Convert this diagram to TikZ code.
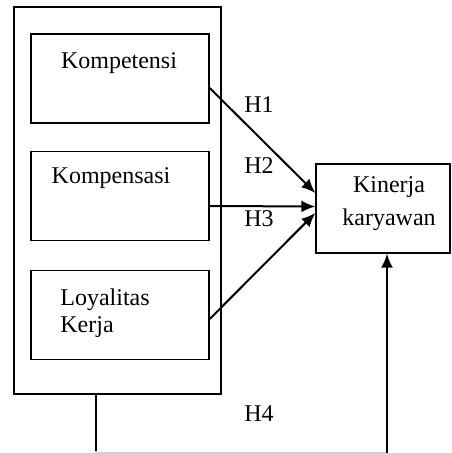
\documentclass[tikz,border=0pt]{standalone}
\usepackage{fontspec}
\setmainfont{Liberation Serif}
\usetikzlibrary{arrows.meta}
\begin{document}
\begin{tikzpicture}[x=0.5pt,y=-0.5pt,
    box/.style={draw, line width=0.7pt, minimum width=89pt, minimum height=44.5pt, inner sep=0pt},
    txt/.style={font=\fontsize{12}{13.5}\selectfont, inner sep=0pt},
    arr/.style={-{Latex[length=7pt,width=6pt]}, line width=1pt}]
  \useasboundingbox (0,0) rectangle (451,453);
  % variabel bebas
  \node[draw, line width=0.7pt, minimum width=103.5pt, minimum height=193.5pt] (grp) at (117.5,200.5) {};
  \node[box] (komp) at (120,78.5) {};
  \node[box] (kmps) at (120,196) {};
  \node[box] (loya) at (120,315) {};
  \node[txt, anchor=base] (kompT) at (119,69) {Kompetensi};
  \node[txt, anchor=base] (kmpsT) at (111,184) {Kompensasi};
  \node[txt, anchor=base west, align=left] (loyaT) at (60,332) {Loyalitas\\Kerja};
  % variabel terikat
  \node[box, minimum width=67pt] (kin) at (383,208.5) {};
  \node[txt, anchor=base, align=center, font=\fontsize{12}{16.5}\selectfont] (kinT) at (389,226) {Kinerja\\karyawan};
  % hipotesis
  \draw[arr] ([yshift=-4.75pt]komp.east) -- ([yshift=7.75pt]kin.west);
  \draw[arr] ([yshift=-5pt]kmps.east) -- ([yshift=1pt]kin.west);
  \draw[arr] ([yshift=-2pt]loya.east) -- ([yshift=-2.25pt]kin.west);
  \coordinate (h4a) at (96,453);
  \coordinate (h4b) at (387,453);
  \draw[line width=1pt, gray!40] (grp.south -| h4a) -- (h4a) -- (h4b);
  \draw[line width=1pt] (grp.south -| h4a) -- ([yshift=1pt]h4a);
  \draw[arr] (h4b) -- (h4b |- kin.south);
  \node[txt, anchor=base west] (h1) at (244,113) {H1};
  \node[txt, anchor=base west] (h2) at (244,174) {H2};
  \node[txt, anchor=base west] (h3) at (244,227) {H3};
  \node[txt, anchor=base west] (h4) at (244,421) {H4};
\end{tikzpicture}
\end{document}
